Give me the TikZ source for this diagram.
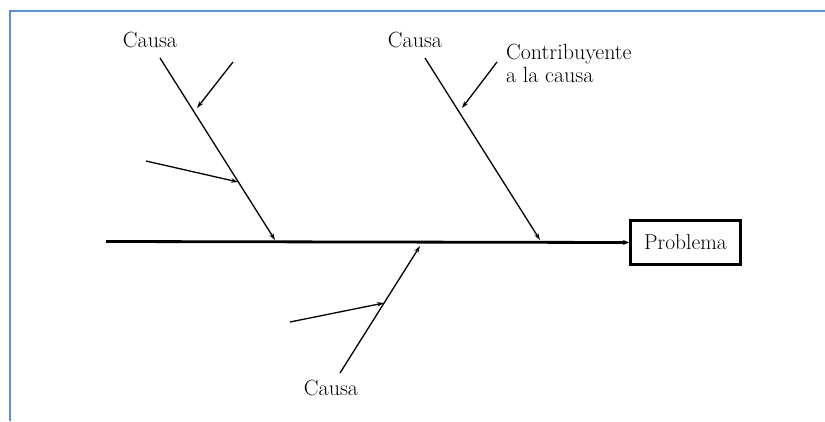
\documentclass[tikz,border=0pt]{standalone}
\usetikzlibrary{arrows.meta}
\definecolor{framec}{RGB}{95,145,210}
\begin{document}
\begin{tikzpicture}[x=1pt,y=-1pt,
  lbl/.style={inner sep=0pt,anchor=base,font=\fontsize{22}{24}\selectfont},
  bone/.style={line width=1.3pt,-{Stealth[length=7pt,width=4.5pt]}},
  spine/.style={line width=2.8pt,-{Stealth[length=6pt,width=5pt]}},
  probbox/.style={draw,line width=3pt,minimum width=110pt,minimum height=44pt,inner sep=0pt,font=\fontsize{21.5}{24}\selectfont}]
\useasboundingbox (0,0) rectangle (825,421);
% open frame
\draw[framec,line width=2pt] (10,421) -- (10,10.5) -- (825,10.5);
% problem box
\node[probbox] (prob) at (685.5,242.5) {Problema};
% spine
\coordinate (sp0) at (106,241.5);
\draw[spine] (sp0) -- (prob.west);
% top-left bone
\coordinate (b1s) at (160,58);
\coordinate (b1e) at (275,240);
\draw[bone] (b1s) -- (b1e);
\coordinate (s1s) at (233,62);
\coordinate (s1e) at (197,108);
\draw[bone] (s1s) -- (s1e);
\coordinate (s2s) at (146,161);
\coordinate (s2e) at (238,182);
\draw[bone] (s2s) -- (s2e);
% top-right bone
\coordinate (b2s) at (425,58);
\coordinate (b2e) at (540,240);
\draw[bone] (b2s) -- (b2e);
\coordinate (s3s) at (497,62);
\coordinate (s3e) at (462,108);
\draw[bone] (s3s) -- (s3e);
% bottom bone
\coordinate (b3s) at (340,373);
\coordinate (b3e) at (420,246);
\draw[bone] (b3s) -- (b3e);
\coordinate (s4s) at (290,322);
\coordinate (s4e) at (384,303);
\draw[bone] (s4s) -- (s4e);
% labels
\node[lbl] (c1) at (150,47) {Causa};
\node[lbl] (c2) at (415,47) {Causa};
\node[lbl,anchor=base west] (k1) at (506,59) {Contribuyente};
\node[lbl,anchor=base west] (k2) at (506,82) {a la causa};
\node[lbl] (c3) at (331,395) {Causa};
\end{tikzpicture}
\end{document}
